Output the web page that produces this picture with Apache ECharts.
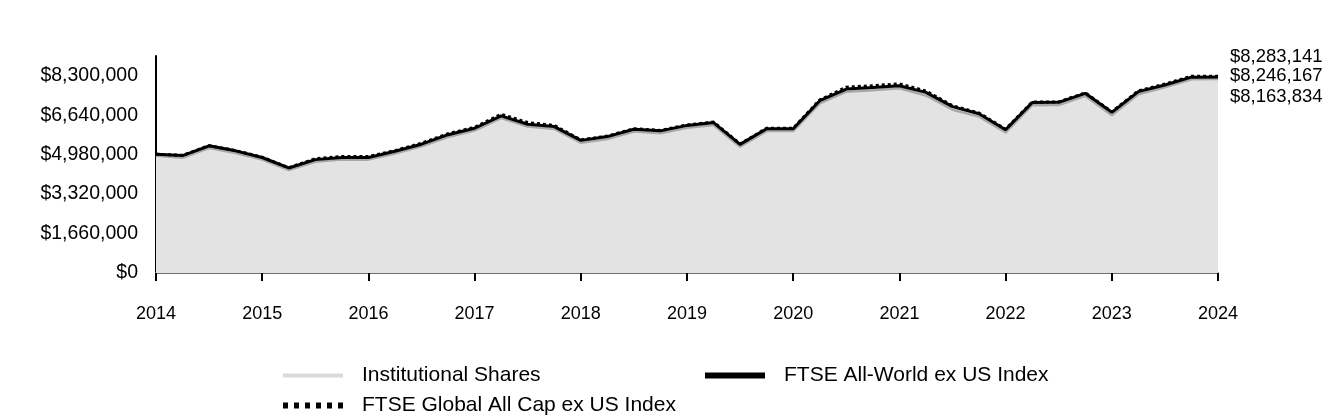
<!DOCTYPE html>
<html>
<head>
<meta charset="utf-8">
<script src="https://cdn.jsdelivr.net/npm/echarts@6/dist/echarts.min.js"></script>
<style>
html,body{margin:0;padding:0;background:#fff;}
#chart{width:1344px;height:420px;}
</style>
</head>
<body>
<div id="chart"></div>
<script>
var quarters = [];
for (var yr = 2014; yr <= 2024; yr++) {
  ['01','04','07','10'].forEach(function (m) {
    if (yr < 2024 || m === '01') quarters.push(yr + '-' + m);
  });
}
var seriesNames = ['Institutional Shares', 'FTSE All-World ex US Index', 'FTSE Global All Cap ex US Index'];

var institutional = [4930000,4850000,5260000,5050000,4770000,4330000,4680000,4770000,4770000,5030000,
  5330000,5720000,5990000,6520000,6160000,6060000,5480000,5640000,5950000,5880000,
  6110000,6230000,5310000,5970000,5970000,7140000,7630000,7690000,7770000,7470000,
  6870000,6580000,5910000,7060000,7070000,7450000,6640000,7520000,7810000,8150000,8163834];

var allWorld = [5000000,4940000,5350000,5140000,4860000,4420000,4770000,4860000,4860000,5120000,
  5420000,5820000,6090000,6610000,6260000,6160000,5580000,5740000,6050000,5980000,
  6210000,6330000,5410000,6070000,6070000,7250000,7740000,7800000,7880000,7600000,
  7000000,6700000,6030000,7170000,7180000,7560000,6760000,7630000,7910000,8240000,8246167];

var globalAllCap = [5000000,4950000,5360000,5150000,4870000,4430000,4810000,4900000,4900000,5150000,
  5460000,5860000,6130000,6680000,6330000,6210000,5600000,5760000,6070000,6000000,
  6230000,6350000,5430000,6090000,6090000,7280000,7820000,7880000,7960000,7660000,
  7040000,6730000,6050000,7190000,7200000,7580000,6780000,7660000,7950000,8280000,8283141];

var yTicks = [0, 1660000, 3320000, 4980000, 6640000, 8300000];

var FONT = "'Liberation Sans', Arial, sans-serif";
function money(v) { return '$' + Math.round(v).toLocaleString('en-US'); }

var chart = echarts.init(document.getElementById('chart'), null, {renderer: 'canvas'});

function endLabel(offsetY) {
  return {
    show: true,
    distance: 12,
    offset: [0, offsetY],
    formatter: function (p) { return money(p.value); },
    color: '#000',
    fontFamily: FONT,
    fontSize: 18.5
  };
}

var legendText = {color: '#000', fontFamily: FONT, fontSize: 21, padding: [0, 0, 0, 14]};

var option = {
  animation: false,
  backgroundColor: '#fff',
  grid: {left: 156, right: 126, top: 56, bottom: 147},
  xAxis: {
    type: 'category',
    data: quarters,
    boundaryGap: false,
    axisLine: {lineStyle: {color: '#707070', width: 2}},
    axisTick: {show: true, interval: 3, length: 8, lineStyle: {color: '#000', width: 2}},
    axisLabel: {
      interval: 3,
      margin: 32,
      color: '#000',
      fontFamily: FONT,
      fontSize: 18,
      formatter: function (v) { return v.slice(0, 4); }
    },
    splitLine: {show: false}
  },
  yAxis: {
    type: 'value',
    min: yTicks[0],
    max: 9130000,
    interval: yTicks[1] - yTicks[0],
    axisLine: {show: true, lineStyle: {color: '#000', width: 2}},
    axisTick: {show: false},
    splitLine: {show: false},
    axisLabel: {
      showMaxLabel: false,
      margin: 18,
      color: '#000',
      fontFamily: FONT,
      fontSize: 19.5,
      formatter: function (v) { return yTicks.indexOf(v) >= 0 ? money(v) : ''; }
    }
  },
  legend: [
    {
      data: [{name: seriesNames[0], itemStyle: {color: '#d9d9d9'}}],
      left: 278, top: 360,
      icon: 'path://M0,0h60v4h-60z',
      itemWidth: 60, itemHeight: 4,
      textStyle: legendText,
      selectedMode: false
    },
    {
      data: [{name: seriesNames[1], itemStyle: {color: '#000'}}],
      left: 700, top: 360,
      icon: 'path://M0,0h60v6h-60z',
      itemWidth: 60, itemHeight: 6,
      textStyle: legendText,
      selectedMode: false
    },
    {
      data: [{name: seriesNames[2], itemStyle: {color: '#000'}}],
      left: 278, top: 390,
      icon: 'path://M0,0h5v6h-5zM11,0h5v6h-5zM22,0h5v6h-5zM33,0h5v6h-5zM44,0h5v6h-5zM55,0h5v6h-5z',
      itemWidth: 60, itemHeight: 6,
      textStyle: legendText,
      selectedMode: false
    }
  ],
  series: [
    {
      name: seriesNames[0],
      type: 'line',
      data: institutional,
      symbol: 'none',
      z: 1,
      lineStyle: {color: '#a8a8a8', width: 2.5},
      itemStyle: {color: '#a8a8a8'},
      areaStyle: {color: '#e3e3e3', opacity: 1},
      endLabel: endLabel(18)
    },
    {
      name: seriesNames[1],
      type: 'line',
      data: allWorld,
      symbol: 'none',
      z: 2,
      lineStyle: {color: '#000', width: 3},
      itemStyle: {color: '#000'},
      endLabel: endLabel(-1)
    },
    {
      name: seriesNames[2],
      type: 'line',
      data: globalAllCap,
      symbol: 'none',
      z: 3,
      lineStyle: {color: '#000', width: 3, type: [3, 3]},
      itemStyle: {color: '#000'},
      endLabel: endLabel(-19)
    }
  ]
};
chart.setOption(option);
</script>
</body>
</html>
